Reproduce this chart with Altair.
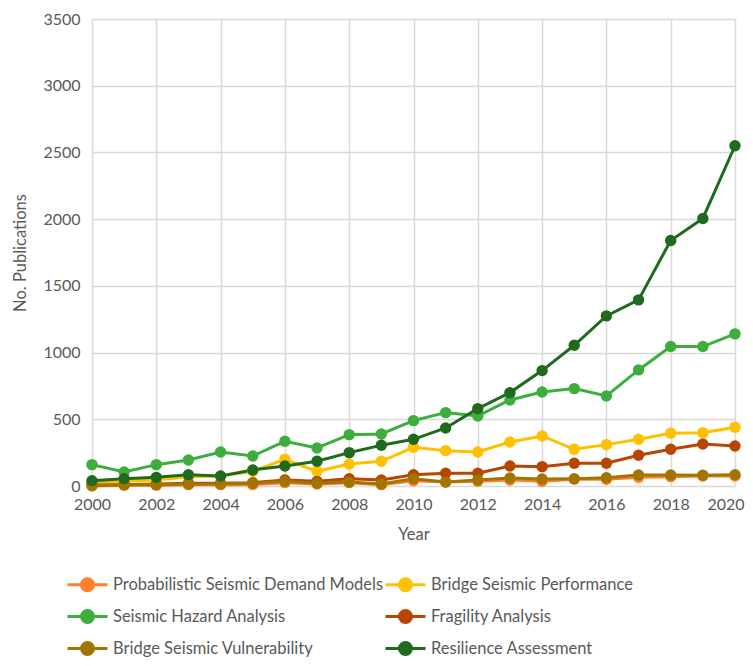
import altair as alt
import pandas as pd

years = list(range(2000, 2021))

series_names = [
    "Probabilistic Seismic Demand Models",
    "Bridge Seismic Performance",
    "Seismic Hazard Analysis",
    "Fragility Analysis",
    "Bridge Seismic Vulnerability",
    "Resilience Assessment",
]
series_colors = ["#FF7F2A", "#FFC000", "#3DAE3D", "#B84600", "#A27500", "#1F6A1F"]

probabilistic = [0, 5, 5, 10, 10, 10, 25, 15, 25, 10, 40, 30, 35, 45, 35, 50, 50, 65, 70, 75, 75]
bridge_performance = [20, 35, 45, 70, 75, 110, 200, 110, 165, 185, 290, 265, 255, 330, 375, 275, 310, 350, 395, 400, 440]
hazard = [160, 105, 160, 195, 255, 225, 335, 285, 385, 390, 490, 550, 525, 645, 705, 730, 675, 870, 1045, 1045, 1140]
fragility = [5, 10, 15, 20, 20, 25, 45, 35, 55, 45, 85, 95, 95, 150, 145, 170, 170, 230, 275, 315, 300]
vulnerability = [5, 10, 10, 15, 15, 20, 35, 20, 30, 15, 55, 30, 45, 60, 52, 55, 62, 82, 82, 80, 85]
resilience = [40, 55, 65, 85, 75, 120, 150, 185, 250, 305, 350, 435, 580, 700, 865, 1055, 1275, 1395, 1840, 2005, 2550]

all_values = [probabilistic, bridge_performance, hazard, fragility, vulnerability, resilience]

rows = []
for name, vals in zip(series_names, all_values):
    for y, v in zip(years, vals):
        rows.append({"Year": y, "Publications": v, "Series": name})
df = pd.DataFrame(rows)

FONT = "Lato"
TXT = "#595959"

color = alt.Color(
    "Series:N",
    scale=alt.Scale(domain=series_names, range=series_colors),
    sort=series_names,
    legend=alt.Legend(
        title=None,
        orient="none",
        direction="horizontal",
        legendX=-20,
        legendY=550,
        columns=2,
        columnPadding=-5,
        rowPadding=4,
        symbolType="M-1.43,0L1.43,0M0.43,0A0.43,0.43,0,1,1,-0.43,0A0.43,0.43,0,1,1,0.43,0Z",
        symbolSize=784,
        symbolStrokeWidth=3,
        symbolOffset=0,
        labelFont=FONT,
        labelFontSize=16.5,
        labelColor=TXT,
        labelOffset=10,
        labelLimit=400,
    ),
)

x = alt.X(
    "Year:Q",
    scale=alt.Scale(domain=[2000, 2020], nice=False),
    axis=alt.Axis(
        values=list(range(2000, 2021, 2)),
        format="d",
        title="Year",
        domain=False,
        ticks=False,
        labelFlush=False,
        labelOverlap=False,
        labelAlign={"condition": {"test": "datum.value == 2020", "value": "right"}, "value": "center"},
        labelOffset={"condition": {"test": "datum.value == 2020", "value": 9}, "value": 0},
        labelPadding=10,
        titlePadding=14,
    ),
)
y = alt.Y(
    "Publications:Q",
    scale=alt.Scale(domain=[0, 3500], nice=False),
    axis=alt.Axis(
        values=list(range(0, 3501, 500)),
        format="d",
        title="No. Publications",
        domain=False,
        ticks=False,
        labelFlush=False,
        labelOverlap=False,
        labelPadding=12,
        titlePadding=14,
    ),
)

base = alt.Chart(df).encode(x=x, y=y, color=color, order=alt.Order("Year:Q"))

lines = base.mark_line(strokeWidth=3)
points = base.mark_point(filled=True, size=130, opacity=1, shape="circle")

chart = (
    alt.layer(lines, points)
    .properties(
        width=643,
        height=467,
        autosize=alt.AutoSizeParams(type="none"),
        padding={"left": 84, "top": 11, "right": 10, "bottom": 172},
    )
    .configure_axis(
        labelFont=FONT,
        labelFontSize=16,
        labelColor=TXT,
        titleFont=FONT,
        titleFontSize=16.5,
        titleColor=TXT,
        titleFontWeight="normal",
        gridColor="#D9D9D9",
        gridWidth=1.5,
    )
    .configure_view(stroke=None)
)

chart.save("out.html", embed_options={"renderer": "svg", "actions": False})
